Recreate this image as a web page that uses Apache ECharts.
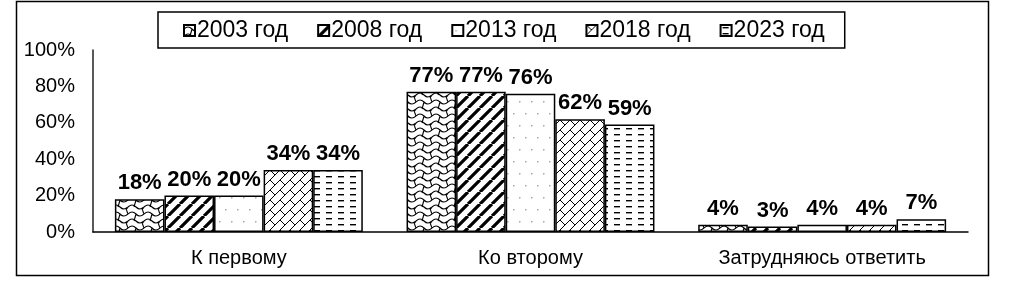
<!DOCTYPE html>
<html><head><meta charset="utf-8">
<script src="https://cdn.jsdelivr.net/npm/echarts@6/dist/echarts.min.js"></script>
<style>html,body{margin:0;padding:0;background:#fff}#c{width:1025px;height:283px}</style>
</head><body><div id="c"></div>
<script>
const categories = ['К первому', 'Ко второму', 'Затрудняюсь ответить'];
const seriesNames = ['2003 год', '2008 год', '2013 год', '2018 год', '2023 год'];
const v2003 = [18, 77, 4];
const v2008 = [20, 77, 3];
const v2013 = [20, 76, 4];
const v2018 = [34, 62, 4];
const v2023 = [34, 59, 7];
const yTicks = [0, 20, 40, 60, 80, 100];
const values = [v2003, v2008, v2013, v2018, v2023];

function mk(w, h, draw) {
  const c = document.createElement('canvas');
  c.width = w; c.height = h;
  const g = c.getContext('2d');
  g.fillStyle = '#fff'; g.fillRect(0, 0, w, h);
  g.strokeStyle = '#000'; g.fillStyle = '#000';
  draw(g);
  return { image: c, repeat: 'repeat' };
}
const patterns = [
  // 2003: shingle / wavy scales
  mk(16, 14, g => {
    g.lineWidth = 1.1;
    g.beginPath();
    g.moveTo(0, 4); g.quadraticCurveTo(4, 0, 8, 4); g.quadraticCurveTo(12, 8, 16, 4);
    g.moveTo(0, 11); g.quadraticCurveTo(4, 7, 8, 11); g.quadraticCurveTo(12, 15, 16, 11);
    g.moveTo(8, 4); g.lineTo(6, 11);
    g.moveTo(16, 11); g.lineTo(14, 14);
    g.moveTo(0, 11); g.lineTo(-2, 14);
    g.moveTo(16, 4); g.lineTo(14.5, 0);
    g.stroke();
  }),
  // 2008: wide diagonal stripes
  mk(12, 12, g => {
    g.lineWidth = 3.2;
    g.beginPath();
    for (let k = -12; k <= 24; k += 12) { g.moveTo(k, 12); g.lineTo(k + 12, 0); }
    g.stroke();
  }),
  // 2013: sparse dots
  mk(24, 24, g => {
    g.fillStyle = '#aaa';
    g.fillRect(3, 5, 1.5, 1.5);
    g.fillRect(15, 5, 1.5, 1.5);
    g.fillRect(9, 17, 1.5, 1.5);
    g.fillRect(21, 17, 1.5, 1.5);
  }),
  // 2018: diagonal brick trellis
  mk(20, 20, g => {
    g.lineWidth = 1;
    g.beginPath();
    for (let k = -20; k <= 40; k += 10) { g.moveTo(k, 20); g.lineTo(k + 20, 0); }
    g.moveTo(0, 0); g.lineTo(5, 5);
    g.moveTo(10, 10); g.lineTo(15, 15);
    g.moveTo(10, 0); g.lineTo(15, 5);
    g.moveTo(0, 10); g.lineTo(5, 15);
    g.moveTo(20, 10); g.lineTo(25, 15);
    g.stroke();
  }),
  // 2023: horizontal dashes
  mk(12, 12, g => {
    g.fillRect(2, 2, 6, 1.4);
    g.fillRect(2, 8, 6, 1.4);
  })
];

const chart = echarts.init(document.getElementById('c'), null, { renderer: 'canvas' });
const FONT = '"Liberation Sans", Arial, sans-serif';
chart.setOption({
  animation: false,
  backgroundColor: '#fff',
  textStyle: { fontFamily: FONT },
  graphic: [{
    type: 'rect', shape: { x: 16.5, y: 1.5, width: 972, height: 274 },
    style: { fill: 'none', stroke: '#000', lineWidth: 1.5 }, silent: true, z: -1
  }],
  legend: {
    top: 12, left: 158,
    data: seriesNames,
    icon: 'rect', itemWidth: 11, itemHeight: 11, itemGap: 29,
    borderColor: '#000', borderWidth: 1.5, padding: [7, 20, 6, 25],
    textStyle: { fontSize: 23, color: '#000', fontFamily: FONT, padding: [0, 0, 0, -3] }
  },
  grid: { left: 93, right: 57, top: 50, bottom: 51, containLabel: false },
  xAxis: {
    type: 'category', data: categories,
    axisLine: { lineStyle: { color: '#000', width: 1.5 } },
    axisTick: { show: false },
    axisLabel: { fontSize: 20, color: '#000', margin: 16, fontFamily: FONT }
  },
  yAxis: {
    type: 'value', min: 0, max: 100, interval: 20,
    axisLine: { show: true, lineStyle: { color: '#222', width: 1.5 } },
    axisTick: { show: false },
    splitLine: { show: false },
    axisLabel: { formatter: '{value}%', fontSize: 20, color: '#000', margin: 18, fontFamily: FONT }
  },
  series: values.map((vals, i) => ({
    name: seriesNames[i], type: 'bar', data: vals,
    barGap: '0%', barCategoryGap: '15%',
    itemStyle: { color: patterns[i], borderColor: '#000', borderWidth: 1.5 },
    label: {
      show: true, position: 'top', distance: 5, formatter: '{c}%',
      fontSize: 22, fontWeight: 'bold', color: '#000', fontFamily: FONT
    }
  }))
});
</script></body></html>
